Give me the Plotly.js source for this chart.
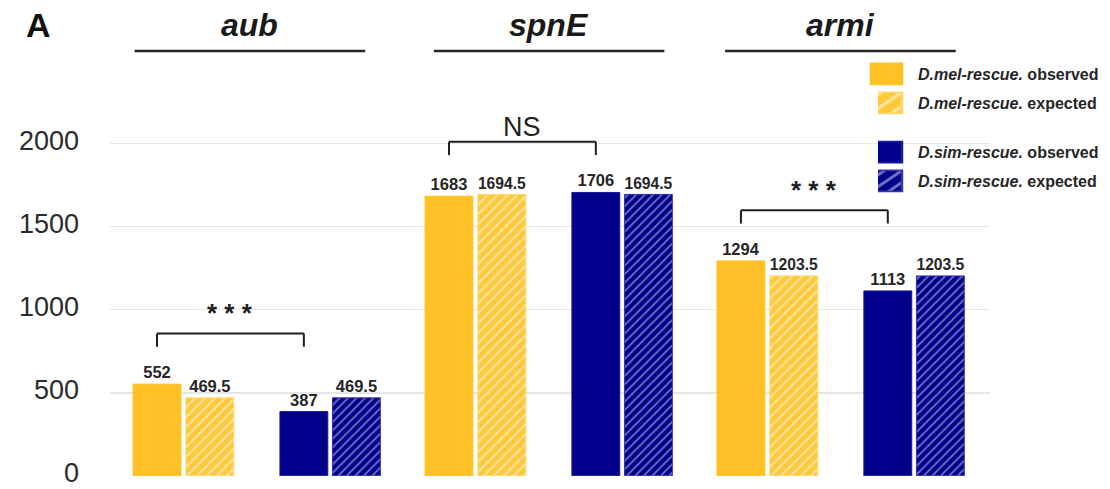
<!DOCTYPE html>
<html>
<head>
<meta charset="utf-8">
<script src="https://cdn.plot.ly/plotly-3.0.1.min.js"></script>
<style>html,body{margin:0;padding:0;background:#fff}#chart{width:1110px;height:489px}</style>
</head>
<body>
<div id="chart"></div>
<script>
// ---- data ----
const genes = ['aub', 'spnE', 'armi'];
const melObserved = [552, 1683, 1294];
const melExpected = [469.5, 1694.5, 1203.5];
const simObserved = [387, 1706, 1113];
const simExpected = [469.5, 1694.5, 1203.5];
const significance = ['* * *', 'NS', '* * *'];
const yTicks = [0, 500, 1000, 1500, 2000];
const seriesNames = [
  '<b><i>D.mel-rescue.</i> observed</b>',
  '<b><i>D.mel-rescue.</i> expected</b>',
  '<b><i>D.sim-rescue.</i> observed</b>',
  '<b><i>D.sim-rescue.</i> expected</b>'
];

// ---- style ----
const GOLD = '#FFC125';
const NAVY = '#00008B';
const FONT = 'Liberation Sans, Arial, sans-serif';
const BW = 0.164;
const offsets = [-0.424, -0.243, 0.079, 0.259];
const labelFont = {family: FONT, size: 16.5, color: '#262626', weight: 'bold'};

function fmt(v){ return '<b>' + String(v) + '</b>'; }

const traces = [
  {y: melObserved, color: GOLD, line: GOLD, pattern: null, legend: 'legend'},
  {y: melExpected, color: '#FFCB3D', line: '#FFD966', pattern: {shape: '/', bgcolor: '#FFC83A', fgcolor: '#FFFFFF', size: 7, solidity: 0.3}, legend: 'legend2'},
  {y: simObserved, color: NAVY, line: '#1a1a99', pattern: null, legend: 'legend3'},
  {y: simExpected, color: NAVY, line: '#3535AA', pattern: {shape: '/', bgcolor: NAVY, fgcolor: '#E8E8FF', size: 6, solidity: 0.3}, legend: 'legend4'}
].map((s, i) => {
  const marker = {color: s.color, line: {color: s.line, width: 1}};
  if (s.pattern) marker.pattern = Object.assign({fillmode: 'overlay'}, s.pattern);
  return {
    type: 'bar', x: genes, y: s.y, name: seriesNames[i],
    width: BW, offset: offsets[i], marker: marker,
    text: s.y.map(fmt), textposition: 'outside', textfont: labelFont,
    cliponaxis: false, legend: s.legend, showlegend: true, hoverinfo: 'skip'
  };
});

// brackets and significance labels
const shapes = [];
const annotations = [];
genes.forEach((g, i) => {
  const top = Math.max(melObserved[i], simObserved[i], melExpected[i], simExpected[i]) + 305;
  const tip = top - 80;
  const xa = i + offsets[0] + BW / 2;
  const xb = i + offsets[2] + BW / 2;
  const ln = {color: '#1f1f1f', width: 2};
  shapes.push({type: 'line', xref: 'x', yref: 'y', x0: xa, x1: xb, y0: top, y1: top, line: ln});
  shapes.push({type: 'line', xref: 'x', yref: 'y', x0: xa, x1: xa, y0: top, y1: tip, line: ln});
  shapes.push({type: 'line', xref: 'x', yref: 'y', x0: xb, x1: xb, y0: top, y1: tip, line: ln});
  const isNS = significance[i] === 'NS';
  annotations.push({
    xref: 'x', yref: 'y', x: (xa + xb) / 2, y: top, xanchor: 'center', yanchor: 'bottom',
    yshift: isNS ? -2 : 3, showarrow: false, text: isNS ? significance[i] : '<b>' + significance[i] + '</b>',
    font: {family: FONT, size: isNS ? 27 : 26, color: '#1f1f1f'}
  });
});

// gene headers with underline
const headerX = [0.159, 0.499, 0.830];
genes.forEach((g, i) => {
  annotations.push({
    xref: 'paper', yref: 'paper', x: headerX[i], y: 1.292, xanchor: 'center', yanchor: 'middle',
    showarrow: false, text: '<b><i>' + g + '</i></b>',
    font: {family: FONT, size: 32, color: '#1a1a1a'}
  });
  shapes.push({type: 'line', xref: 'paper', yref: 'paper',
    x0: headerX[i] - 0.131, x1: headerX[i] + 0.131, y0: 1.218, y1: 1.218,
    line: {color: '#262626', width: 2.5}});
});
annotations.push({
  xref: 'paper', yref: 'paper', x: -0.0818, y: 1.292, xanchor: 'center', yanchor: 'middle',
  showarrow: false, text: '<b>A</b>', font: {family: FONT, size: 34, color: '#111'}
});

const legendBase = {
  xref: 'paper', yref: 'paper', x: 0.8727, xanchor: 'left', yanchor: 'middle',
  bgcolor: 'rgba(0,0,0,0)', borderwidth: 0,
  font: {family: FONT, size: 16, color: '#262626'}
};
const legendY = [1.152, 1.069, 0.928, 0.845];

const layout = {
  width: 1110, height: 489,
  margin: {l: 110, r: 120, t: 127, b: 13, autoexpand: false},
  paper_bgcolor: '#fff', plot_bgcolor: '#fff',
  barmode: 'overlay',
  xaxis: {range: [-0.503, 2.511], showticklabels: false, showgrid: false, zeroline: false, showline: false, ticks: ''},
  yaxis: {range: [-1, 2100], tickvals: yTicks, ticktext: yTicks.map(String),
    showgrid: true, gridcolor: '#E6E6E6', gridwidth: 1.5, zeroline: false, showline: false,
    ticks: '', ticklabelstandoff: 30, ticklabelshift: -3, automargin: false, ticklabeloverflow: 'allow',
    tickfont: {family: FONT, size: 27, color: '#2b2b2b'}},
  shapes: shapes,
  annotations: annotations,
  legend: Object.assign({}, legendBase, {y: legendY[0]}),
  legend2: Object.assign({}, legendBase, {y: legendY[1]}),
  legend3: Object.assign({}, legendBase, {y: legendY[2]}),
  legend4: Object.assign({}, legendBase, {y: legendY[3]}),
  showlegend: true
};

Plotly.newPlot('chart', traces, layout, {staticPlot: true}).then(() => {
  document.querySelectorAll('.legend [clip-path]').forEach(el => el.removeAttribute('clip-path'));
  document.querySelectorAll('.legendpoints path').forEach(p => {
    p.setAttribute('transform', 'translate(8.5,0) scale(2.58,1.75)');
  });
});
</script>
</body>
</html>
